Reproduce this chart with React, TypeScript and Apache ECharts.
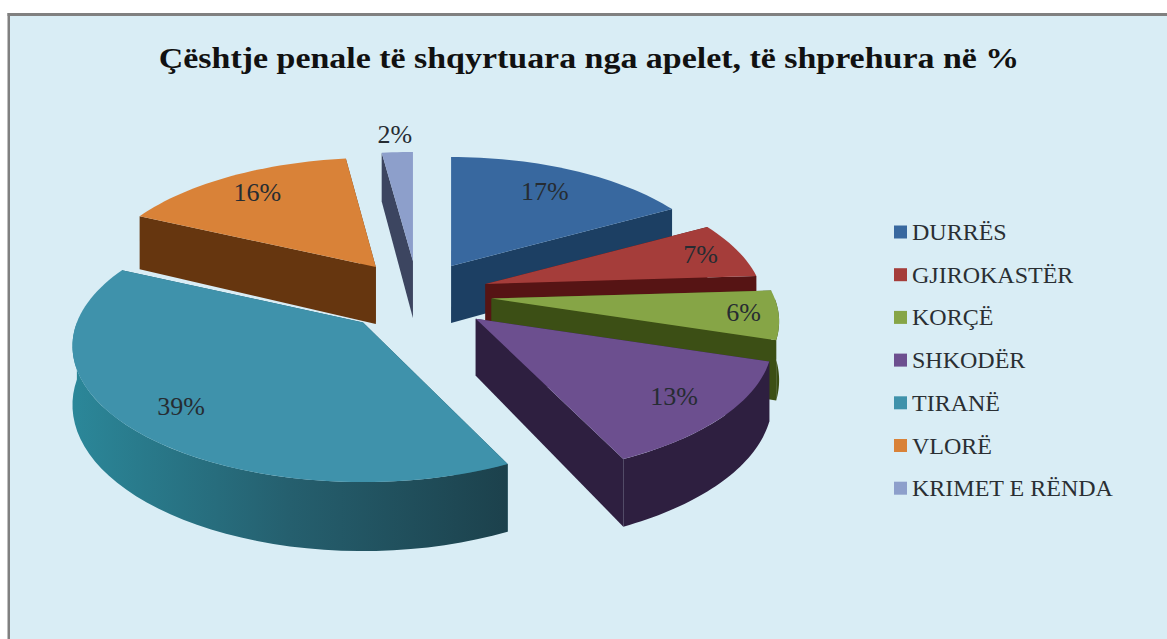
import React, { useEffect, useRef } from "react";
import * as echarts from "echarts";

const categories = ["DURRËS", "GJIROKASTËR", "KORÇË", "SHKODËR", "TIRANË", "VLORË", "KRIMET E RËNDA"];
const shares = [17, 7, 6, 13, 39, 16, 2];
const topColors = ["#38689f", "#a53d3a", "#86a546", "#6c4f8f", "#3f92ab", "#d98238", "#8d9fcb"];
const wallColors = ["#1c3f63", "#561414", "#3c4f15", "#2e1f40", "#1f5a69", "#66360f", "#3c4560"];
const paintOrder = [6, 0, 5, 1, 2, 3, 4];
const titleText = "Çështje penale të shqyrtuara nga apelet, të shprehura në %";

// Per-slice fine tuning of the exploded 3D layout (perspective distortion of the original).
const explodeNudgeX = [-6, -1, 3, 3, -15, -10, -7];
const explodeNudgeY = [0, -3, -3, -2, 0, -1, 0];
const radiusScaleX = [0.936, 0.94, 0.97, 1, 0.98, 0.96, 1];
const radiusScaleY = [1, 1, 1, 1.02, 1.03, 1, 1];
const labelRadius = [0.75, 0.85, 0.88, 0.82, 0.81, 0.8, 1.2];

const CX = 424, CY = 297, EX = 65, EY = 36, R = 292, RY = 128, DEPTH = 57, PERSP = 0.174;
const SERIF = "'Liberation Serif', serif";

type P = [number, number];

const total = shares.reduce((a, b) => a + b, 0);
const cumBefore = shares.map((_, i) => shares.slice(0, i).reduce((a, b) => a + b, 0));

function makeRender(i: number) {
  const point = (ax: number, ay: number, th: number, f: number, z: number): P => {
    const px = Math.sin(th) * f;
    const py = -Math.cos(th) * f;
    const s = 1 / (1 - PERSP * py);
    return [ax + R * radiusScaleX[i] * px * s, ay + RY * radiusScaleY[i] * py * s + z * DEPTH * s];
  };
  return (_p: any, api: any) => {
    const v = api.value(0) as number;
    const before = api.value(1) as number;
    const a0 = (before / total) * Math.PI * 2;
    const a1 = ((before + v) / total) * Math.PI * 2;
    const mid = (a0 + a1) / 2;
    const ax = CX + EX * Math.sin(mid) + explodeNudgeX[i];
    const ay = CY - EY * Math.cos(mid) + explodeNudgeY[i];
    const steps = Math.max(6, Math.round(v * 2));
    const topPts: P[] = [point(ax, ay, 0, 0, 0)];
    for (let k = 0; k <= steps; k++) topPts.push(point(ax, ay, a0 + ((a1 - a0) * k) / steps, 1, 0));

    const children: any[] = [];
    const cut = (th: number) => [
      point(ax, ay, 0, 0, 0),
      point(ax, ay, th, 1, 0),
      point(ax, ay, th, 1, 1),
      point(ax, ay, 0, 0, 1),
    ];
    const cuts = [cut(a0), cut(a1)].sort(
      (p, q) => p[1][1] + p[2][1] - (q[1][1] + q[2][1])
    );
    cuts.forEach((pts) =>
      children.push({ type: "polygon", shape: { points: pts }, style: { fill: wallColors[i] } })
    );

    const lo = Math.max(a0, Math.PI / 2);
    const hi = Math.min(a1, (Math.PI * 3) / 2);
    if (hi > lo) {
      const up: P[] = [];
      const down: P[] = [];
      const n = 40;
      for (let k = 0; k <= n; k++) {
        const th = lo + ((hi - lo) * k) / n;
        up.push(point(ax, ay, th, 1, 0));
        down.unshift(point(ax, ay, th, 1, 1));
      }
      const fill =
        i === 4
          ? new echarts.graphic.LinearGradient(0, 0, 1, 0, [
              { offset: 0, color: "#2b8799" },
              { offset: 0.5, color: "#255f6e" },
              { offset: 1, color: "#1c414c" },
            ])
          : wallColors[i];
      children.push({ type: "polygon", shape: { points: up.concat(down) }, style: { fill } });
    }
    children.push({ type: "polygon", shape: { points: topPts }, style: { fill: topColors[i] } });

    const lab = point(ax, ay, mid, labelRadius[i], 0);
    children.push({
      type: "text",
      style: {
        text: `${v}%`,
        x: lab[0],
        y: lab[1],
        align: "center",
        verticalAlign: "middle",
        fill: "#262c32",
        fontSize: 26,
        fontFamily: SERIF,
      },
    });
    return { type: "group", children };
  };
}

export default function App() {
  const ref = useRef<HTMLDivElement>(null);
  useEffect(() => {
    document.body.style.margin = "0";
    const chart = echarts.init(ref.current!, null, { renderer: "svg" });
    chart.setOption({
      animation: false,
      backgroundColor: "#ffffff",
      graphic: [
        { type: "rect", z: -10, shape: { x: 8, y: 14, width: 1159, height: 625 }, style: { fill: "#d9edf5" } },
        { type: "rect", z: -9, shape: { x: 7.5, y: 13, width: 1159.5, height: 3 }, style: { fill: "#808080" } },
        { type: "rect", z: -9, shape: { x: 7.5, y: 13, width: 2.5, height: 626 }, style: { fill: "#808080" } },
        {
          type: "text",
          z: 5,
          x: 589,
          y: 58,
          scaleX: 1.17,
          style: {
            text: titleText,
            align: "center",
            verticalAlign: "middle",
            fontFamily: SERIF,
            fontSize: 29,
            fontWeight: "bold",
            fill: "#111111",
          },
        },
      ],
      legend: {
        orient: "vertical",
        left: 889,
        top: 215,
        icon: "rect",
        itemWidth: 13,
        itemHeight: 13,
        itemGap: 18.7,
        selectedMode: false,
        data: categories,
        textStyle: { fontFamily: SERIF, fontSize: 24, color: "#2a2f33" },
      },
      series: paintOrder.map((i) => ({
        type: "custom",
        name: categories[i],
        coordinateSystem: "none",
        silent: true,
        itemStyle: { color: topColors[i] },
        data: [[shares[i], cumBefore[i]]],
        renderItem: makeRender(i),
      })),
    });
    return () => chart.dispose();
  }, []);
  return <div ref={ref} style={{ width: 1167, height: 639 }} />;
}
